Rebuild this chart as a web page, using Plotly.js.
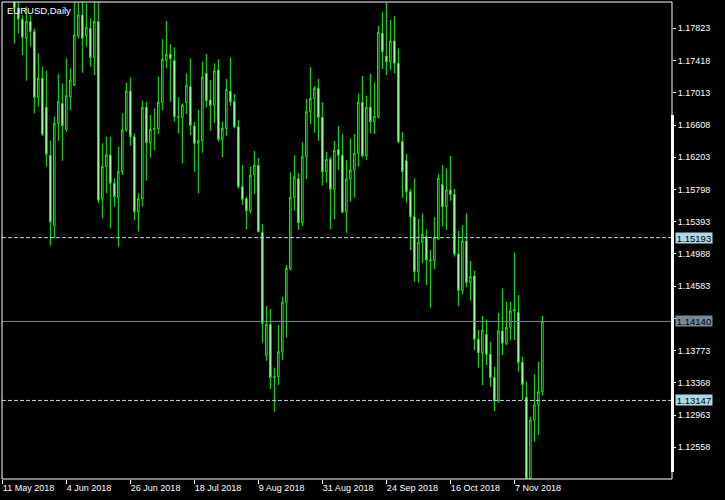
<!DOCTYPE html>
<html><head><meta charset="utf-8">
<script src="https://cdn.plot.ly/plotly-3.0.1.min.js"></script>
<style>html,body{margin:0;padding:0;background:#000}</style>
</head><body><div id="chart" style="width:725px;height:500px"></div>
<script>
const dates = [
'2018-05-11','2018-05-14','2018-05-15','2018-05-16','2018-05-17','2018-05-18','2018-05-21','2018-05-22','2018-05-23','2018-05-24',
'2018-05-25','2018-05-28','2018-05-29','2018-05-30','2018-05-31','2018-06-01','2018-06-04','2018-06-05','2018-06-06','2018-06-07',
'2018-06-08','2018-06-11','2018-06-12','2018-06-13','2018-06-14','2018-06-15','2018-06-18','2018-06-19','2018-06-20','2018-06-21',
'2018-06-22','2018-06-25','2018-06-26','2018-06-27','2018-06-28','2018-06-29','2018-07-02','2018-07-03','2018-07-04','2018-07-05',
'2018-07-06','2018-07-09','2018-07-10','2018-07-11','2018-07-12','2018-07-13','2018-07-16','2018-07-17','2018-07-18','2018-07-19',
'2018-07-20','2018-07-23','2018-07-24','2018-07-25','2018-07-26','2018-07-27','2018-07-30','2018-07-31','2018-08-01','2018-08-02',
'2018-08-03','2018-08-06','2018-08-07','2018-08-08','2018-08-09','2018-08-10','2018-08-13','2018-08-14','2018-08-15','2018-08-16',
'2018-08-17','2018-08-20','2018-08-21','2018-08-22','2018-08-23','2018-08-24','2018-08-27','2018-08-28','2018-08-29','2018-08-30',
'2018-08-31','2018-09-03','2018-09-04','2018-09-05','2018-09-06','2018-09-07','2018-09-10','2018-09-11','2018-09-12','2018-09-13',
'2018-09-14','2018-09-17','2018-09-18','2018-09-19','2018-09-20','2018-09-21','2018-09-24','2018-09-25','2018-09-26','2018-09-27',
'2018-09-28','2018-10-01','2018-10-02','2018-10-03','2018-10-04','2018-10-05','2018-10-08','2018-10-09','2018-10-10','2018-10-11',
'2018-10-12','2018-10-15','2018-10-16','2018-10-17','2018-10-18','2018-10-19','2018-10-22','2018-10-23','2018-10-24','2018-10-25',
'2018-10-26','2018-10-29','2018-10-30','2018-10-31','2018-11-01','2018-11-02','2018-11-05','2018-11-06','2018-11-07','2018-11-08',
'2018-11-09','2018-11-12','2018-11-13','2018-11-14','2018-11-15','2018-11-16'
];
const open = [
1.1920,1.1940,1.1925,1.1835,1.18078,1.17936,1.17697,1.17907,1.17781,1.16956,
1.17195,1.16830,1.16227,1.15343,1.16629,1.16880,1.16554,1.16964,1.17111,1.17727,
1.17990,1.17731,1.17823,1.17458,1.17907,1.15682,1.16085,1.16231,1.15875,1.15699,
1.16022,1.16545,1.17035,1.16461,1.15519,1.15682,1.16830,1.16386,1.16554,1.16562,
1.16893,1.17420,1.17496,1.17417,1.16713,1.16705,1.16889,1.17090,1.16596,1.16378,
1.16411,1.17257,1.16922,1.16855,1.17299,1.16428,1.16566,1.17031,1.16901,1.16587,
1.15833,1.15682,1.15532,1.15984,1.16101,1.15259,1.13714,1.14103,1.13437,1.13446,
1.13760,1.14380,1.14807,1.15699,1.15934,1.15381,1.16210,1.16776,1.16943,1.17069,
1.16704,1.16022,1.16177,1.15800,1.16298,1.16227,1.15515,1.15930,1.16043,1.16252,
1.16893,1.16223,1.16830,1.16650,1.16717,1.17760,1.17475,1.17404,1.17664,1.17383,
1.16399,1.16160,1.15770,1.15456,1.14765,1.15134,1.15205,1.14912,1.14904,1.15175,
1.15862,1.15582,1.15791,1.15737,1.14987,1.14530,1.15150,1.14627,1.14711,1.13915,
1.13747,1.13978,1.13726,1.13437,1.13140,1.14020,1.13865,1.14066,1.14271,1.14254,
1.13626,1.13186,1.12168,1.12901,1.13090,1.13257
];
const high = [
1.1996,1.1997,1.1930,1.18490,1.18310,1.17990,1.18095,1.17990,1.17823,1.17509,
1.17341,1.17291,1.16411,1.16713,1.17249,1.17132,1.17446,1.17320,1.18180,1.18220,
1.18250,1.18137,1.17950,1.18200,1.18400,1.16378,1.16462,1.16462,1.15938,1.16336,
1.16755,1.17140,1.17207,1.16500,1.15749,1.16914,1.16901,1.16734,1.16818,1.17216,
1.17685,1.17915,1.17622,1.17584,1.16956,1.16880,1.17257,1.17446,1.16650,1.16797,
1.17404,1.17500,1.17174,1.17383,1.17433,1.16650,1.17186,1.17458,1.16998,1.16671,
1.16105,1.15707,1.16085,1.16281,1.16193,1.15364,1.14334,1.14296,1.13559,1.14095,
1.14451,1.14849,1.16013,1.16227,1.16001,1.16390,1.16935,1.17333,1.17098,1.17186,
1.16893,1.16273,1.16210,1.16407,1.16596,1.16491,1.16168,1.16440,1.16495,1.17006,
1.17224,1.16977,1.17249,1.17144,1.17852,1.18024,1.18145,1.17928,1.17978,1.17572,
1.16516,1.16244,1.15808,1.15938,1.15427,1.15498,1.15297,1.15038,1.15448,1.15992,
1.16105,1.16064,1.16219,1.15804,1.15280,1.15351,1.15498,1.14900,1.14778,1.14032,
1.14208,1.14166,1.13886,1.13572,1.14250,1.14556,1.14388,1.14388,1.15004,1.14472,
1.13697,1.13383,1.12943,1.13475,1.13634,1.14208
];
const low = [
1.1905,1.1920,1.1820,1.17634,1.17760,1.17488,1.17165,1.17593,1.16755,1.16839,
1.16470,1.16084,1.15092,1.15184,1.16411,1.16160,1.16524,1.16797,1.17099,1.17697,
1.17266,1.17593,1.17341,1.17236,1.15624,1.15435,1.15750,1.15309,1.15582,1.15079,
1.15980,1.16524,1.16348,1.15414,1.15268,1.15582,1.15909,1.16198,1.16294,1.16495,
1.16797,1.17320,1.16901,1.16650,1.16503,1.16126,1.16746,1.16482,1.16022,1.15749,
1.16260,1.16830,1.16537,1.16637,1.16399,1.16202,1.16474,1.16851,1.16566,1.15808,
1.15603,1.15297,1.15498,1.15737,1.15259,1.13873,1.13647,1.13291,1.13006,1.13341,
1.13655,1.13936,1.14780,1.15532,1.15289,1.15339,1.15929,1.16621,1.16512,1.16411,
1.15846,1.15883,1.15297,1.15423,1.16043,1.15498,1.15255,1.15645,1.15695,1.16085,
1.16202,1.16168,1.16503,1.16495,1.16688,1.17312,1.17236,1.17299,1.17257,1.16378,
1.15695,1.15632,1.15038,1.14640,1.14627,1.14870,1.14598,1.14313,1.14795,1.15163,
1.15331,1.15289,1.15657,1.14954,1.14330,1.14480,1.14570,1.14400,1.13781,1.13559,
1.13341,1.13592,1.13320,1.13014,1.13119,1.13718,1.13840,1.13907,1.13907,1.13509,
1.13153,1.12160,1.12160,1.12629,1.12713,1.13207
];
const close = [
1.1940,1.1925,1.1835,1.18078,1.17940,1.17710,1.17907,1.17781,1.16956,1.17195,
1.16491,1.16240,1.15393,1.16629,1.16901,1.16600,1.16977,1.17174,1.17739,1.17990,
1.17697,1.17836,1.17458,1.17907,1.15666,1.16085,1.16231,1.15875,1.15707,1.16022,
1.16545,1.17035,1.16461,1.15519,1.15682,1.16830,1.16386,1.16554,1.16562,1.16893,
1.17433,1.17496,1.17442,1.16713,1.16705,1.16859,1.17103,1.16604,1.16378,1.16411,
1.17207,1.16914,1.16855,1.17287,1.16428,1.16566,1.17056,1.16901,1.16587,1.15833,
1.15674,1.15532,1.15976,1.16101,1.15268,1.14116,1.14103,1.13437,1.13446,1.13760,
1.14380,1.14807,1.15699,1.15959,1.15381,1.16210,1.16776,1.16943,1.17069,1.16704,
1.16022,1.16177,1.15800,1.16286,1.16227,1.15515,1.15930,1.16043,1.16252,1.16893,
1.16223,1.16830,1.16650,1.16717,1.17773,1.17530,1.17404,1.17664,1.17383,1.16399,
1.16022,1.15770,1.15456,1.14765,1.15134,1.15235,1.14912,1.14904,1.15197,1.15938,
1.15582,1.15791,1.15737,1.14987,1.14530,1.15150,1.14627,1.14703,1.13915,1.13747,
1.14032,1.13726,1.13437,1.13140,1.14020,1.13865,1.14066,1.14271,1.14290,1.13626,
1.13349,1.12168,1.12901,1.13090,1.13257,1.14140
];
const xTickDates = ['2018-05-11','2018-06-04','2018-06-26','2018-07-18','2018-08-09','2018-08-31','2018-09-24','2018-10-16','2018-11-07'];
const xTickText = ['11 May 2018','4 Jun 2018','26 Jun 2018','18 Jul 2018','9 Aug 2018','31 Aug 2018','24 Sep 2018','16 Oct 2018','7 Nov 2018'];
const yTicks = [1.12558,1.12963,1.13368,1.13773,1.14178,1.14583,1.14988,1.15393,1.15798,1.16203,1.16608,1.17013,1.17418,1.17823];
const levelHigh = 1.15193, levelBid = 1.14140, levelLow = 1.13147;
const symbolTitle = 'EURUSD,Daily';

const FONT = 'Liberation Sans, Arial, sans-serif';
const trace = {
  type:'candlestick', x:dates, open:open, high:high, low:low, close:close,
  increasing:{line:{color:'#00FF00',width:1}, fillcolor:'#000000'},
  decreasing:{line:{color:'#00FF00',width:1}, fillcolor:'#FFFFFF'},
  whiskerwidth:0, hoverinfo:'skip', showlegend:false
};
const lvlLine = (y,color,dash)=>({type:'line',xref:'paper',x0:0,x1:1,yref:'y',y0:y,y1:y,line:{color:color,width:1,dash:dash},layer:'above'});
const lvlBox = (y,bg)=>({xref:'paper',x:1,xanchor:'left',xshift:3,yref:'y',y:y,yanchor:'middle',
  text:y.toFixed(5),showarrow:false,bgcolor:bg,font:{family:FONT,size:9.5,color:'#000'},width:36,height:10,borderpad:0,align:'center'});
const layout = {
  width:725,height:500,paper_bgcolor:'#000',plot_bgcolor:'#000',
  margin:{l:2,r:53,t:2,b:21},
  boxgap:0.45,
  xaxis:{type:'category',range:[-0.08,167.4],rangeslider:{visible:false},showgrid:false,zeroline:false,showline:false,
    tickmode:'array',tickvals:xTickDates,ticktext:xTickText,ticks:'outside',ticklen:4,tickcolor:'#FFFFFF',tickwidth:1,
    ticklabelposition:'outside right',tickfont:{family:FONT,size:9,color:'#FFFFFF'},fixedrange:true},
  yaxis:{side:'right',range:[1.12160,1.18154],showgrid:false,zeroline:false,showline:false,
    tickmode:'array',tickvals:yTicks,ticktext:yTicks.map(v=>v.toFixed(5)),ticks:'outside',ticklen:3,tickcolor:'#FFFFFF',tickwidth:1,
    tickfont:{family:FONT,size:9,color:'#FFFFFF'},fixedrange:true},
  shapes:[
    lvlLine(levelHigh,'#ADD8E6','4px,2px'),
    lvlLine(levelBid,'#778899','solid'),
    lvlLine(levelLow,'#ADD8E6','4px,2px'),
    {type:'rect',xref:'paper',yref:'paper',x0:0,x1:1,y0:0,y1:1,line:{color:'#FFFFFF',width:1},layer:'above'},
    {type:'rect',xref:'paper',yref:'paper',x0:0.9985,x1:1.0030,y0:0.0147,y1:0.763,line:{width:0},fillcolor:'#FFFFFF',layer:'above'}
  ],
  annotations:[
    {xref:'paper',yref:'paper',x:0,y:1,xanchor:'left',yanchor:'top',xshift:3,yshift:-1,text:symbolTitle,showarrow:false,
     font:{family:FONT,size:9.5,color:'#FFFFFF'}},
    lvlBox(levelHigh,'#ADD8E6'),
    lvlBox(levelBid,'#778899'),
    lvlBox(levelLow,'#ADD8E6')
  ]
};
Plotly.newPlot('chart',[trace],layout,{staticPlot:true,displayModeBar:false});
</script></body></html>
